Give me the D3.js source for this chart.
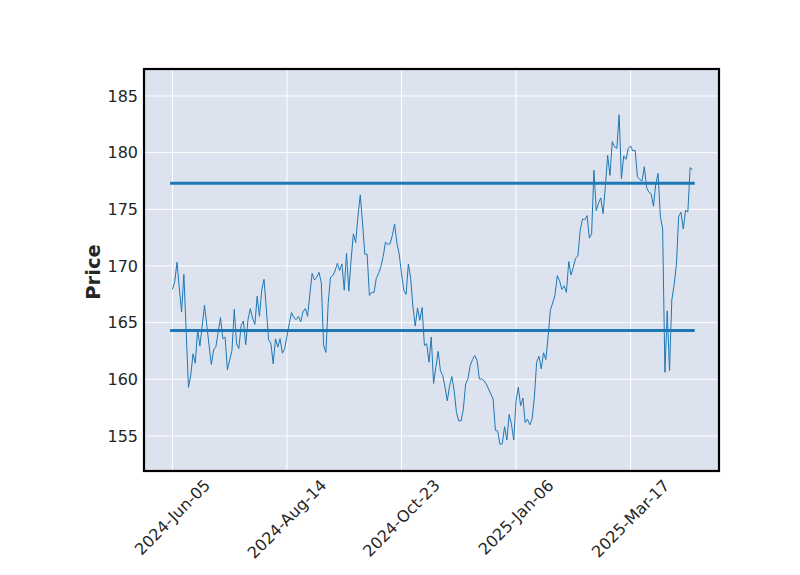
<!DOCTYPE html>
<html>
<head>
<meta charset="utf-8">
<script src="https://cdn.jsdelivr.net/npm/d3@7"></script>
<style>
  html, body { margin: 0; padding: 0; background: #ffffff; }
  svg { display: block; font-family: "DejaVu Sans", sans-serif; }
</style>
</head>
<body>
<svg id="chart" width="800" height="575"></svg>
<script>
// ---- Data ----
const prices = [
  167.93, 168.6, 170.33, 168.1, 165.95, 169.26, 164.3, 159.29, 160.33, 162.25,
  161.42, 164.38, 162.93, 164.7, 166.54, 164.8, 163.0, 161.3, 162.6, 162.9,
  164.2, 165.45, 163.58, 163.73, 160.83, 161.7, 162.55, 166.16, 163.14, 162.72,
  164.76, 165.15, 163.05, 165.27, 166.24, 165.4, 164.85, 167.33, 165.56, 167.87,
  168.82, 166.2, 163.5, 163.14, 161.37, 163.58, 162.84, 163.58, 162.31, 162.69,
  163.8, 164.91, 165.89, 165.45, 165.27, 165.56, 165.06, 165.95, 166.24, 165.56,
  167.5, 169.35, 168.76, 169.0, 169.44, 168.52, 163.0, 162.37, 166.69, 169.0,
  169.14, 169.56, 170.24, 169.59, 170.18, 167.87, 171.13, 167.78, 170.53, 172.84,
  172.07, 174.38, 176.27, 173.79, 171.04, 171.04, 167.4, 167.67, 167.67, 168.91,
  169.35, 169.94, 170.83, 172.1, 171.92, 171.95, 172.69, 173.7, 172.01, 171.07,
  169.35, 167.87, 167.49, 170.18, 168.91, 166.39, 164.7, 166.3, 165.21, 166.33,
  162.99, 163.14, 161.51, 163.73, 159.64, 161.06, 162.46, 160.77, 160.33, 159.29,
  158.11, 159.44, 160.24, 159.0, 157.07, 156.33, 156.33, 157.37, 159.59, 160.03,
  161.21, 161.75, 162.1, 161.66, 160.03, 160.03, 159.88, 159.59, 159.15, 158.7,
  158.26, 155.5, 155.44, 154.26, 154.32, 155.82, 154.64, 156.9, 156.04, 154.64,
  158.11, 159.29, 157.66, 158.35, 156.18, 156.48, 155.98, 156.48, 158.4, 161.51,
  162.04, 160.91, 162.34, 161.75, 163.73, 166.1, 166.74, 167.43, 169.14, 168.69,
  167.93, 168.25, 167.67, 170.39, 169.2, 169.88, 170.68, 170.89, 173.11, 174.14,
  174.08, 174.44, 172.46, 172.84, 178.46, 174.88, 175.56, 176.01, 174.62, 177.04,
  179.76, 177.99, 180.98, 180.51, 180.38, 183.34, 177.7, 179.71, 179.41, 180.38,
  180.59, 180.15, 180.21, 177.87, 177.63, 177.48, 178.76, 176.9, 176.51, 176.36,
  175.26, 177.25, 178.17, 174.38, 173.26, 160.62, 166.04, 160.77, 166.98, 168.31,
  170.09, 174.38, 174.74, 173.26, 174.91, 174.77, 178.67, 178.52
];
const levels = [177.3, 164.3];
const xTickIndex = [0, 50, 100, 150, 200];
const xTickLabels = ["2024-Jun-05", "2024-Aug-14", "2024-Oct-23", "2025-Jan-06", "2025-Mar-17"];
const yTicks = [155, 160, 165, 170, 175, 180, 185];
const yLabel = "Price";

// ---- Layout ----
const L = 144, R = 719, T = 69, B = 471;
const svg = d3.select("#chart");
const n = prices.length;

const x = d3.scaleLinear().domain([-12.4, (n - 1) + 11.6]).range([L, R]);
const y = d3.scaleLinear().domain([151.91, 187.38]).range([B, T]);

// background
svg.append("rect").attr("x", L).attr("y", T).attr("width", R - L).attr("height", B - T)
  .attr("fill", "#DCE3EF");

// grid
const g = svg.append("g");
g.selectAll("line.gy").data(yTicks).enter().append("line")
  .attr("x1", L).attr("x2", R)
  .attr("y1", d => y(d)).attr("y2", d => y(d))
  .attr("stroke", "#ffffff").attr("stroke-width", 1);
g.selectAll("line.gx").data(xTickIndex).enter().append("line")
  .attr("x1", d => x(d)).attr("x2", d => x(d))
  .attr("y1", T).attr("y2", B)
  .attr("stroke", "#ffffff").attr("stroke-width", 1);

// horizontal levels
svg.selectAll("line.level").data(levels).enter().append("line")
  .attr("x1", x(-1)).attr("x2", x(n))
  .attr("y1", d => y(d)).attr("y2", d => y(d))
  .attr("stroke", "#1f77b4").attr("stroke-width", 3);

// price line
const line = d3.line().x((d, i) => x(i)).y(d => y(d));
svg.append("path").datum(prices)
  .attr("d", line)
  .attr("fill", "none")
  .attr("stroke", "#1f77b4")
  .attr("stroke-width", 1)
  .attr("stroke-linejoin", "round");

// frame
svg.append("rect").attr("x", L).attr("y", T).attr("width", R - L).attr("height", B - T)
  .attr("fill", "none").attr("stroke", "#000").attr("stroke-width", 2.2);

// y axis labels
const yAxis = d3.axisLeft(y).tickValues(yTicks).tickSize(0).tickPadding(6);
const ya = svg.append("g").attr("transform", `translate(${L},0)`).call(yAxis);
ya.select(".domain").remove();
ya.selectAll("text").attr("font-size", 16).attr("fill", "#262626")
  .attr("font-family", "DejaVu Sans, sans-serif");

// x axis labels (rotated 45, centered)
const xa = svg.append("g");
xTickIndex.forEach((idx, k) => {
  const t = xa.append("text")
    .attr("font-size", 16).attr("fill", "#262626")
    .attr("text-anchor", "middle").attr("dominant-baseline", "central")
    .text(xTickLabels[k]);
  const w = t.node().getComputedTextLength();
  const h = 18.5;
  const half = (w + h) / (2 * Math.SQRT2);
  const cx = x(idx), cy = B + 5 + half;
  t.attr("transform", `translate(${cx},${cy}) rotate(-45)`);
});

// y label
svg.append("text")
  .attr("transform", `translate(93,272) rotate(-90)`)
  .attr("text-anchor", "middle").attr("dominant-baseline", "central")
  .attr("font-size", 19.5).attr("font-weight", "bold").attr("fill", "#262626")
  .text(yLabel);
</script>
</body>
</html>
